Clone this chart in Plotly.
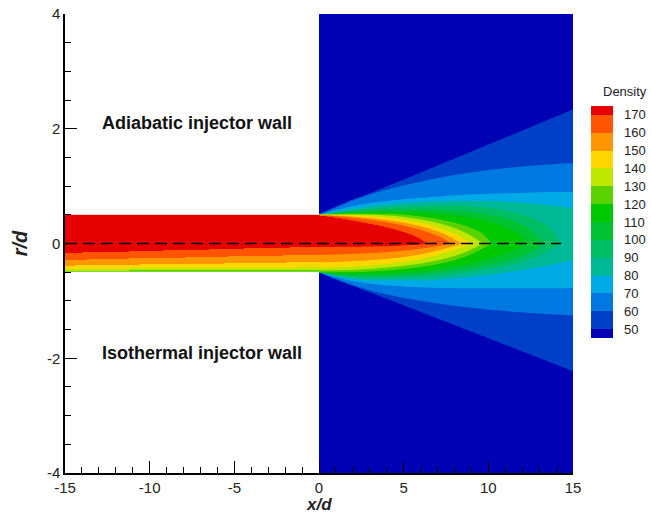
import numpy as np
import plotly.graph_objects as go

# ---------------- data ----------------
levels = [50, 60, 70, 80, 90, 100, 110, 120, 130, 140, 150, 160, 170]
band_colors = ["#0000B4", "#0040C8", "#0078E1", "#00AAE6", "#00B996", "#00BE64",
               "#00C332", "#00C800", "#5AD200", "#BEE600", "#FFD700", "#FF9600",
               "#FF5500", "#E60000"]

# centreline density (x/d, value) in the jet region
cl_x = [0.0, 6.4, 7.8, 8.4, 9.0, 9.7, 10.2, 12.4, 13.3, 14.3, 15.0]
cl_val = [180, 170, 160, 150, 140, 130, 120, 110, 100, 90, 87]

# upper half (adiabatic side) contour positions: level -> x/d list, r/d list
upper_x = {
    170: [0, 1.5, 3, 4.5, 5.7, 6.4], 160: [0, 2, 4, 6, 7.2, 7.8],
    150: [0, 2, 4, 6, 7.6, 8.4], 140: [0, 2, 4, 6, 8, 9.0],
    130: [0, 2, 4, 6, 8, 9.7], 120: [0, 2, 4, 6, 8, 9.5, 10.2],
    110: [0, 2, 4, 6, 8, 10, 11.5, 12.4], 100: [0, 2, 4, 6, 8, 10, 12, 13.3],
    90: [0, 2, 4, 6, 8, 10, 12, 13.5, 14.3], 80: [0, 2, 4, 6, 8, 10, 12, 15],
    70: [0, 3, 6, 9, 12, 15], 60: [0, 3, 6, 9, 12, 15], 50: [0, 15],
}
upper_r = {
    170: [0.5, 0.43, 0.35, 0.25, 0.13, 0.0], 160: [0.5, 0.45, 0.37, 0.24, 0.11, 0.0],
    150: [0.5, 0.47, 0.41, 0.30, 0.14, 0.0], 140: [0.5, 0.49, 0.45, 0.36, 0.17, 0.0],
    130: [0.5, 0.51, 0.49, 0.42, 0.27, 0.0], 120: [0.5, 0.52, 0.52, 0.47, 0.36, 0.20, 0.0],
    110: [0.5, 0.53, 0.55, 0.54, 0.49, 0.39, 0.22, 0.0],
    100: [0.5, 0.55, 0.58, 0.59, 0.57, 0.50, 0.33, 0.0],
    90: [0.5, 0.57, 0.62, 0.65, 0.66, 0.62, 0.50, 0.30, 0.0],
    80: [0.5, 0.60, 0.68, 0.72, 0.74, 0.74, 0.71, 0.62],
    70: [0.5, 0.70, 0.79, 0.85, 0.88, 0.90], 60: [0.5, 0.86, 1.08, 1.24, 1.34, 1.40],
    50: [0.5, 2.34],
}
# lower half (isothermal side), distances below the axis
lower_x = {
    170: [0, 2, 4, 5.5, 6.4], 160: [0, 2, 4, 6, 7.8], 150: [0, 2, 4, 6, 8.4],
    140: [0, 2, 4, 6, 9.0], 130: [0, 2, 4, 6, 8, 9.7], 120: [0, 2, 4, 6, 8, 10.2],
    110: [0, 2, 4, 6, 8, 10, 12.4], 100: [0, 2, 4, 6, 8, 10, 12, 13.3],
    90: [0, 2, 4, 6, 8, 10, 12, 14.3], 80: [0, 3, 6, 9, 12, 15],
    70: [0, 3, 6, 9, 12, 15], 60: [0, 3, 6, 9, 12, 15], 50: [0, 15],
}
lower_r = {
    170: [0.06, 0.055, 0.045, 0.03, 0.0], 160: [0.20, 0.18, 0.15, 0.09, 0.0],
    150: [0.33, 0.31, 0.27, 0.19, 0.0], 140: [0.42, 0.40, 0.36, 0.27, 0.0],
    130: [0.47, 0.46, 0.42, 0.35, 0.22, 0.0], 120: [0.5, 0.50, 0.47, 0.41, 0.29, 0.0],
    110: [0.5, 0.53, 0.52, 0.48, 0.40, 0.27, 0.0],
    100: [0.5, 0.56, 0.56, 0.53, 0.47, 0.37, 0.22, 0.0],
    90: [0.5, 0.59, 0.60, 0.58, 0.53, 0.45, 0.32, 0.0],
    80: [0.5, 0.64, 0.64, 0.58, 0.46, 0.29],
    70: [0.5, 0.70, 0.76, 0.78, 0.78, 0.78], 60: [0.5, 0.82, 1.00, 1.12, 1.20, 1.25],
    50: [0.5, 2.23],
}
# injector interior, lower half: level positions at x/d = -15 and x/d = 0
inj_levels = [170, 160, 150, 140, 130]
inj_r_start = [0.17, 0.29, 0.39, 0.45, 0.48]
inj_r_end = [0.06, 0.20, 0.33, 0.42, 0.47]
inj_core = 180
inj_wall = 117
background = 40

# centreline guide and labels
guide_x = [-15, 14.3]
guide_r = [0, 0]
label_text = ["Adiabatic injector wall", "Isothermal injector wall"]
label_x = [-12.93, -12.93]
label_r = [2.10, -1.91]
x_ticks = [-15, -10, -5, 0, 5, 10, 15]
r_ticks = [-4, -2, 0, 2, 4]


# ---------------- helpers ----------------
def pchip(xk, yk, x):
    xk = np.asarray(xk, float)
    yk = np.asarray(yk, float)
    if len(xk) < 3:
        return float(np.interp(x, xk, yk))
    h = np.diff(xk)
    dl = np.diff(yk) / h
    d = np.zeros_like(yk)
    for k in range(1, len(xk) - 1):
        if dl[k - 1] * dl[k] > 0:
            w1 = 2 * h[k] + h[k - 1]
            w2 = h[k] + 2 * h[k - 1]
            d[k] = (w1 + w2) / (w1 / dl[k - 1] + w2 / dl[k])
    d[0] = ((2 * h[0] + h[1]) * dl[0] - h[0] * dl[1]) / (h[0] + h[1])
    if np.sign(d[0]) != np.sign(dl[0]):
        d[0] = 0
    elif np.sign(dl[0]) != np.sign(dl[1]) and abs(d[0]) > abs(3 * dl[0]):
        d[0] = 3 * dl[0]
    d[-1] = ((2 * h[-1] + h[-2]) * dl[-1] - h[-1] * dl[-2]) / (h[-1] + h[-2])
    if np.sign(d[-1]) != np.sign(dl[-1]):
        d[-1] = 0
    elif np.sign(dl[-1]) != np.sign(dl[-2]) and abs(d[-1]) > abs(3 * dl[-1]):
        d[-1] = 3 * dl[-1]
    k = int(np.clip(np.searchsorted(xk, x) - 1, 0, len(xk) - 2))
    t = (x - xk[k]) / h[k]
    h00 = 2 * t**3 - 3 * t**2 + 1
    h10 = t**3 - 2 * t**2 + t
    h01 = -2 * t**3 + 3 * t**2
    h11 = t**3 - t**2
    return float(h00 * yk[k] + h10 * h[k] * d[k] + h01 * yk[k + 1] + h11 * h[k] * d[k + 1])


def column(x, rr, curves_x, curves_r, cval):
    pts_r, pts_v = [0.0], [cval]
    for L in sorted(levels, reverse=True):
        cx = curves_x[L]
        if cx[-1] < 15 and x >= cx[-1]:
            continue
        r = pchip(cx, curves_r[L], x)
        if r <= pts_r[-1]:
            r = pts_r[-1] + 1e-4
        pts_r.append(r)
        pts_v.append(L)
    pts_r += [pts_r[-1] + 0.25, 10]
    pts_v += [background, background]
    return np.interp(rr, pts_r, pts_v)


# ---------------- jet field (contour) ----------------
xj = np.linspace(0, 15, 301)
rj = np.linspace(-4, 4, 401)
Zj = np.zeros((len(rj), len(xj)))
for j, x in enumerate(xj):
    c = float(np.interp(x, cl_x, cl_val))
    if x == 0:
        up = np.where(np.abs(rj) <= 0.5, inj_core, background)
        lo = np.interp(np.abs(rj), [0.0] + inj_r_end + [0.5, 0.5001, 10],
                       [inj_core] + inj_levels + [inj_wall, background, background])
    else:
        up = column(x, np.abs(rj), upper_x, upper_r, c)
        lo = column(x, np.abs(rj), lower_x, lower_r, c)
    Zj[:, j] = np.where(rj >= 0, up, lo)

# ---------------- injector field (banded heatmap) ----------------
xi = np.arange(-14.95, 0.0, 0.1)
ri = np.arange(-0.4975, 0.5, 0.005)
Bi = np.zeros((len(ri), len(xi)), dtype=int)
for j, x in enumerate(xi):
    f = min((x + 15) / 15, 1.0)
    rl = [a + (b - a) * f for a, b in zip(inj_r_start, inj_r_end)]
    lo = np.interp(np.abs(ri), [0.0] + rl + [0.5], [inj_core] + inj_levels + [inj_wall])
    zcol = np.where(ri >= 0, inj_core, lo)
    Bi[:, j] = np.searchsorted(levels, zcol, side="right")

n = len(band_colors)
colorscale = [[i / (n - 1), c] for i, c in enumerate(band_colors)]
FONT = "Arial, Liberation Sans, sans-serif"
contours = dict(start=levels[0], end=levels[-1], size=10, coloring="fill", showlines=False)

# plot area: left 65 px, width 508 px so that x/d = 0 lands on a whole pixel
ML, MR, MT, MB = 65, 78, 14, 42
PW, PH = 651 - ML - MR, 515 - MT - MB

fig = go.Figure()
fig.add_trace(go.Contour(
    x=xj, y=rj, z=np.round(Zj, 2), autocontour=False, contours=contours,
    colorscale=colorscale, line=dict(width=0), hoverinfo="skip",
    colorbar=dict(
        x=(591 - ML) / PW, xanchor="left", xpad=0, thickness=22,
        y=(515 - MB - 222) / PH, yanchor="middle", len=232 / PH, ypad=0,
        outlinewidth=0, ticks="outside", ticklen=9, tickcolor="rgba(0,0,0,0)",
        tickvals=levels,
        tickfont=dict(family=FONT, size=13, color="#222"),
    ),
))
fig.add_trace(go.Heatmap(
    x=xi, y=ri, z=Bi, zmin=0, zmax=n - 1, colorscale=colorscale, zsmooth=False,
    showscale=False, hoverinfo="skip",
))
fig.add_trace(go.Scatter(x=guide_x, y=guide_r, mode="lines",
                         line=dict(color="black", width=1.6, dash="12px,6px"),
                         hoverinfo="skip", showlegend=False))

for t, ax_, ay_ in zip(label_text, label_x, label_r):
    fig.add_annotation(x=ax_, y=ay_, text="<b>%s</b>" % t, showarrow=False,
                       xanchor="left", yanchor="middle",
                       font=dict(family=FONT, size=18, color="#111"))
fig.add_annotation(xref="x domain", yref="y domain", text="Density", showarrow=False,
                   x=(601 - ML) / PW, y=(515 - MB - 92) / PH, xanchor="left", yanchor="middle",
                   font=dict(family=FONT, size=13, color="#222"))
# x-axis title, placed at the very bottom of the margin
fig.add_annotation(xref="x", yref="paper", x=0, y=-MB / PH, borderpad=0,
                   text="<b><i>x/d</i></b>", showarrow=False, xanchor="center",
                   yanchor="bottom", font=dict(family=FONT, size=17, color="#222"))

axis_common = dict(ticks="inside", ticklen=12, tickwidth=1.3, tickcolor="black",
                   showline=True, linecolor="black", linewidth=1.5, showgrid=False,
                   zeroline=False, automargin=False, tickfont=dict(size=15, color="#222"))
fig.update_layout(
    width=651, height=515, margin=dict(l=ML, r=MR, t=MT, b=MB, autoexpand=False),
    paper_bgcolor="white", plot_bgcolor="white", showlegend=False,
    font=dict(family=FONT, color="#222"),
    xaxis=dict(range=[-15, 15], tickvals=x_ticks, ticktext=[str(v) for v in x_ticks],
               minor=dict(ticks="inside", ticklen=6, dtick=1, tickcolor="black", tickwidth=1),
               **axis_common),
    yaxis=dict(range=[-4, 4], tickvals=r_ticks, ticktext=[str(v) for v in r_ticks],
               minor=dict(ticks="inside", ticklen=6, dtick=0.5, tickcolor="black", tickwidth=1),
               title=dict(text="<b><i>r/d</i></b>", font=dict(size=20), standoff=14),
               **axis_common),
)
fig.write_html("out.html")
